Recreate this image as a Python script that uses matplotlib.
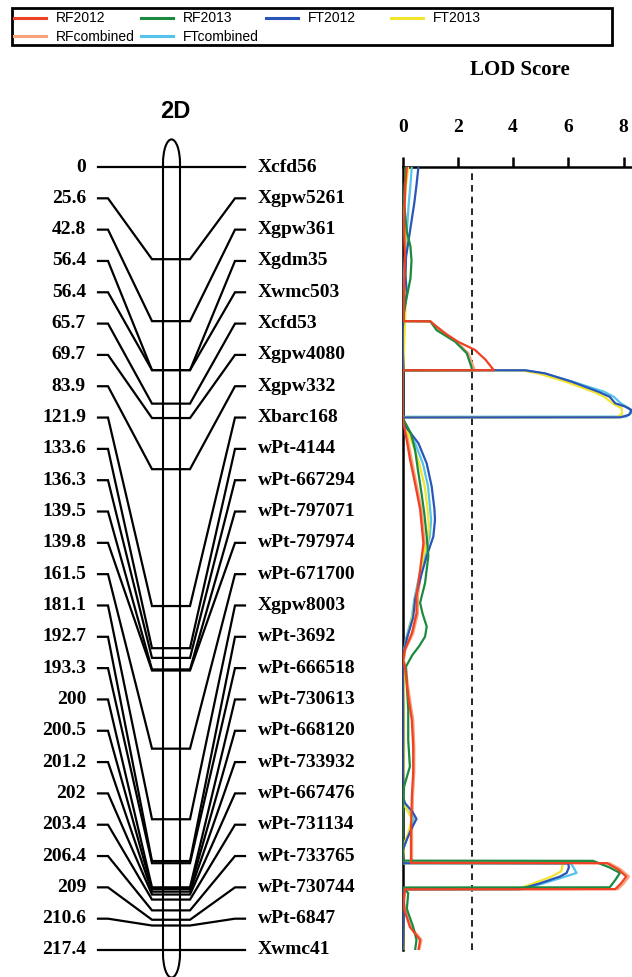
import matplotlib.pyplot as plt
from matplotlib.patches import Arc, Rectangle

# linkage map of chromosome 2D
markers = ['Xcfd56', 'Xgpw5261', 'Xgpw361', 'Xgdm35', 'Xwmc503', 'Xcfd53', 'Xgpw4080',
           'Xgpw332', 'Xbarc168', 'wPt-4144', 'wPt-667294', 'wPt-797071', 'wPt-797974',
           'wPt-671700', 'Xgpw8003', 'wPt-3692', 'wPt-666518', 'wPt-730613', 'wPt-668120',
           'wPt-733932', 'wPt-667476', 'wPt-731134', 'wPt-733765', 'wPt-730744', 'wPt-6847',
           'Xwmc41']
positions = [0, 25.6, 42.8, 56.4, 56.4, 65.7, 69.7, 83.9, 121.9, 133.6, 136.3, 139.5, 139.8,
             161.5, 181.1, 192.7, 193.3, 200, 200.5, 201.2, 202, 203.4, 206.4, 209, 210.6, 217.4]
pos_labels = ['0', '25.6', '42.8', '56.4', '56.4', '65.7', '69.7', '83.9', '121.9', '133.6',
              '136.3', '139.5', '139.8', '161.5', '181.1', '192.7', '193.3', '200', '200.5',
              '201.2', '202', '203.4', '206.4', '209', '210.6', '217.4']

# LOD profiles (cM, LOD)
rf2012_cm = [0, 5, 15, 25, 35, 42.8, 42.85, 44.3, 46.5, 48.5, 50.8, 53.5, 56.4, 56.45, 69.7,
             72, 76, 81, 88, 95, 104.5, 112, 119, 124, 129.5, 134, 137, 138.7, 147, 153.5, 161,
             168, 175, 185, 193.2, 193.3, 195, 197, 199, 200.5, 200.55, 204, 206, 211, 214.6, 217.4]
rf2012_lod = [0.15, 0.1, 0.05, 0.08, 0.05, 0.03, 1.0, 1.23, 1.6, 2.0, 2.62, 3.0, 3.3, 0, 0,
              0.05, 0.15, 0.26, 0.45, 0.63, 0.75, 0.63, 0.5, 0.5, 0.33, 0.08, 0.02, 0.08, 0.2, 0.33, 0.38,
              0.38, 0.33, 0.3, 0.3, 7.4, 7.8, 8.1, 7.9, 7.7, 0.08, 0.03, 0.05, 0.26, 0.63, 0.57]

rf2013_cm = [0, 10, 18, 22, 26, 31, 36, 40, 42.8, 42.85, 45.3, 48.5, 51.7, 55.8, 56.4, 56.45,
             69.7, 74, 78.6, 84, 90.5, 96, 102.6, 108, 115.5, 121, 124, 127.6, 130.4, 133, 135.5,
             138.7, 144, 150.7, 159, 166.5, 172, 180, 192.6, 192.65, 194.5, 196, 198, 200, 200.05,
             201.6, 206, 211, 214.6, 217.4]
rf2013_lod = [0.1, 0.05, 0.15, 0.28, 0.32, 0.28, 0.15, 0.05, 0.02, 1.0, 1.23, 1.9, 2.32, 2.5, 2.5, 0,
              0, 0.3, 0.45, 0.55, 0.68, 0.78, 0.87, 0.93, 0.81, 0.63, 0.72, 0.87, 0.81, 0.6, 0.35,
              0.12, 0.15, 0.2, 0.2, 0.26, 0.05, 0, 0, 6.9, 7.5, 7.87, 7.7, 7.5, 0,
              0.2, 0.15, 0.38, 0.5, 0.45]

ft2012_cm = [0, 5, 10, 18, 25, 30, 35, 40, 45, 56.4, 56.45, 57.3, 59.6, 62.4, 63.8, 65.6, 66.5,
             67.5, 68.8, 69.5, 69.55, 72, 76.7, 82.3, 88.7, 95, 98, 102.6, 108, 112.8, 120, 125,
             131, 136, 150, 165, 175, 176.6, 179, 181, 184, 188, 190, 193.3, 193.35, 194.5, 196,
             197, 198.9, 200.5, 200.55, 205, 210, 217.4]
ft2012_lod = [0.57, 0.5, 0.42, 0.26, 0.12, 0.1, 0.15, 0.05, 0, 0, 4.45, 5.16, 6.12, 7.09, 7.5, 7.7,
              8.05, 8.3, 8.2, 7.9, 0, 0.1, 0.57, 0.87, 1.05, 1.15, 1.17, 1.11, 0.87, 0.69, 0.45, 0.38,
              0.15, 0, 0.02, 0.02, 0.02, 0.08, 0.35, 0.5, 0.3, 0.08, 0, 0, 6.0, 6.02, 5.94,
              5.7, 4.97, 4.25, 0, 0.05, 0.03, 0]

ft2013_cm = [0, 5, 10, 20, 30, 40, 50, 56.4, 56.45, 57.3, 59.6, 62.4, 63.8, 65.6, 67, 68.5, 69.5,
             69.55, 72, 76.7, 82.3, 88.7, 95, 100, 104, 108, 115, 120, 125, 131, 136, 150, 165,
             175, 177, 181, 185, 188, 193.3, 193.35, 195.5, 197, 199, 200.5, 200.55, 210, 217.4]
ft2013_lod = [0.2, 0.12, 0.05, 0.1, 0.12, 0.1, 0.05, 0.02, 4.3, 4.9, 5.9, 6.9, 7.3, 7.6, 7.93,
              7.95, 7.75, 0, 0.1, 0.35, 0.6, 0.8, 0.9, 0.95, 0.9, 0.75, 0.6, 0.45, 0.35, 0.15, 0.03,
              0.05, 0.05, 0.03, 0.06, 0.33, 0.2, 0.05, 0, 5.8, 5.75, 5.4, 4.7, 4.15, 0, 0.02, 0.02]

rfcomb_cm = [0, 5, 15, 25, 35, 42.8, 42.85, 45, 48.5, 51.7, 55.8, 56.4, 56.45, 69.7, 72, 76, 81,
             88, 95, 104.5, 112, 119, 124, 129.5, 134, 137, 138.7, 147, 153.5, 161, 168, 175, 185,
             193.2, 193.3, 195, 197, 199, 200.5, 200.55, 204, 206, 211, 214.6, 217.4]
rfcomb_lod = [0.12, 0.08, 0.05, 0.1, 0.06, 0.03, 1.0, 1.3, 1.95, 2.38, 2.58, 2.6, 0, 0, 0.08, 0.2,
              0.32, 0.5, 0.68, 0.8, 0.68, 0.55, 0.55, 0.38, 0.1, 0.04, 0.1, 0.25, 0.38, 0.42, 0.42,
              0.37, 0.34, 0.34, 7.5, 7.9, 8.2, 8.0, 7.8, 0.1, 0.05, 0.08, 0.3, 0.68, 0.6]

ftcomb_cm = [0, 5, 10, 18, 25, 30, 40, 56.4, 56.45, 57.3, 59.6, 62.4, 63.8, 65.6, 67, 68.2, 69.3,
             69.35, 72, 76.7, 82.3, 88.7, 98, 102.6, 108, 112.8, 120, 125, 131, 136, 175, 177.5,
             181, 184.5, 189, 193.3, 193.35, 196, 197, 198.9, 200.5, 200.55, 217.4]
ftcomb_lod = [0.33, 0.28, 0.22, 0.15, 0.08, 0.05, 0.02, 0, 4.4, 5.1, 6.15, 7.3, 7.65, 7.9, 8.2, 8.3,
              8.1, 0, 0.08, 0.45, 0.73, 0.92, 1.03, 0.98, 0.8, 0.62, 0.42, 0.33, 0.12, 0, 0.02, 0.07,
              0.4, 0.25, 0.03, 0, 6.1, 6.3, 5.9, 5.1, 4.35, 0, 0.01]

series = [
    ('RFcombined', rfcomb_cm, rfcomb_lod, '#f7a27a'),
    ('FTcombined', ftcomb_cm, ftcomb_lod, '#55c3ea'),
    ('FT2013', ft2013_cm, ft2013_lod, '#f2e52e'),
    ('FT2012', ft2012_cm, ft2012_lod, '#2a55b8'),
    ('RF2013', rf2013_cm, rf2013_lod, '#1b8a3e'),
    ('RF2012', rf2012_cm, rf2012_lod, '#ef4123'),
]
lod_ticks = [0, 2, 4, 6, 8]
threshold = 2.5

W, H = 632, 977
fig = plt.figure(figsize=(W / 100, H / 100), dpi=100)
serif = 'Liberation Serif'
sans = 'Liberation Sans'

top_px, bot_px = 167, 950
cm_max = positions[-1]
bottom = (H - bot_px) / H
height = (bot_px - top_px) / H

# ---- map panel (x in pixels, y in cM)
ax = fig.add_axes([0, bottom, 330 / W, height])
ax.set_xlim(0, 330)
ax.set_ylim(cm_max, 0)
ax.axis('off')

px_cm = (bot_px - top_px) / cm_max
cl, cr = 163, 180
ax.plot([cl, cl], [-1, cm_max + 1], color='black', lw=1.5, clip_on=False)
ax.plot([cr, cr], [-1, cm_max + 1], color='black', lw=1.5, clip_on=False)
ax.add_patch(Arc(((cl + cr) / 2, -1), cr - cl, 2 * 24 / px_cm, theta1=180, theta2=360,
                 color='black', lw=1.5, clip_on=False))
ax.add_patch(Arc(((cl + cr) / 2, cm_max + 1), cr - cl, 2 * 24 / px_cm, theta1=0, theta2=180,
                 color='black', lw=1.5, clip_on=False))

n = len(markers)
for i, (name, p, lab) in enumerate(zip(markers, positions, pos_labels)):
    row = i * cm_max / (n - 1)
    ax.plot([98, 108, 152, 190, 235, 245], [row, row, p, p, row, row],
            color='black', lw=1.6, solid_joinstyle='miter', clip_on=False)
    ax.text(86, row, lab, ha='right', va='center', fontsize=14,
            fontweight='bold', family=serif)
    ax.text(258, row, name, ha='left', va='center', fontsize=14,
            fontweight='bold', family=serif)

# ---- LOD panel
x0 = 402.7
px_lod = 27.6
lax = fig.add_axes([x0 / W, bottom, (W - x0) / W, height])
lax.set_ylim(cm_max, 0)
lax.set_xlim(0, (W - x0) / px_lod)
for s in ['right', 'bottom']:
    lax.spines[s].set_visible(False)
for s in ['top', 'left']:
    lax.spines[s].set_linewidth(1.8)
lax.set_yticks([])
lax.xaxis.tick_top()
lax.set_xticks(lod_ticks)
lax.set_xticklabels([str(t) for t in lod_ticks], fontsize=14, fontweight='bold', family=serif)
lax.tick_params(axis='x', direction='out', length=7, width=1.8, pad=15)
lax.axvline(threshold, color='black', lw=1.2, linestyle=(0, (4, 3)))
lax.patch.set_alpha(0)

handles = {}
for name, cm, lod, col in series:
    line, = lax.plot(lod, cm, color=col, lw=1.6, zorder=3, clip_on=True)
    handles[name] = line

fig.text(520 / W, 1 - 70 / H, 'LOD Score', ha='center', va='center', fontsize=15,
         fontweight='bold', family=serif)
fig.text(175 / W, 1 - 112 / H, '2D', ha='center', va='center', fontsize=17,
         fontweight='bold', family=sans)

# legend: four fixed-width columns inside one box
columns = [['RF2012', 'RFcombined'], ['RF2013', 'FTcombined'], ['FT2012'], ['FT2013']]
col_x = [13, 140, 265, 390]
for xs, names in zip(col_x, columns):
    leg = fig.legend([handles[k] for k in names], names, loc='upper left',
                     bbox_to_anchor=(xs / W, 1 - 10 / H), frameon=False,
                     prop={'family': sans, 'size': 10}, handlelength=2.3,
                     handletextpad=0.7, borderpad=0.1, labelspacing=0.3, borderaxespad=0)
    for h in leg.get_lines():
        h.set_linewidth(2.2)
fig.add_artist(Rectangle((12 / W, 1 - 45 / H), 600 / W, 37 / H, transform=fig.transFigure,
                         fill=False, edgecolor='black', lw=2))

fig.savefig('out.png', dpi=100)
